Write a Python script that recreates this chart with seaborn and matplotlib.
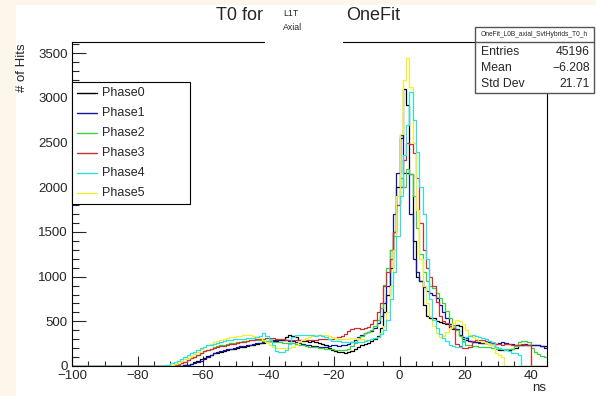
import numpy as np
import pandas as pd
import seaborn as sns
import matplotlib.pyplot as plt
from matplotlib.patches import Rectangle
from matplotlib.lines import Line2D
from matplotlib.ticker import MultipleLocator

# 1 ns bins from -100 to 45 ns
x_lo, x_hi = -100, 45

phase_names = ["Phase0", "Phase1", "Phase2", "Phase3", "Phase4", "Phase5"]
phase_colors = ["#000000", "#14149a", "#3cd23c", "#c83232", "#2ee0e0", "#f0f032"]

# counts per bin, bins -100..-76 are empty
phase0 = [0] * 25 + [
    0, 0, 0, 0, 0, 0, 0, 0, 3, 8,
    15, 25, 40, 60, 80, 95, 110, 125, 140, 150,
    160, 170, 180, 188, 195, 205, 210, 215, 222, 230,
    235, 245, 255, 262, 270, 275, 280, 285, 290, 290,
    330, 345, 340, 320, 290, 280, 275, 270, 275, 265,
    260, 250, 235, 200, 175, 165, 160, 155, 150, 160,
    170, 190, 210, 230, 250, 260, 275, 300, 340, 420,
    600, 800, 1100, 1500, 2000, 2550, 3100, 2920, 2150, 1400,
    1000, 950, 680, 560, 540, 540, 500, 490, 480, 470,
    420, 410, 460, 450, 300, 290, 285, 270, 270, 265,
    260, 260, 250, 240, 190, 180, 180, 175, 180, 185,
    200, 230, 240, 235, 230, 235, 240, 230, 225, 220,
]
phase1 = [0] * 25 + [
    0, 0, 0, 0, 0, 0, 0, 0, 2, 6,
    12, 20, 30, 45, 60, 80, 100, 120, 140, 155,
    165, 175, 185, 195, 205, 212, 220, 228, 235, 240,
    248, 255, 262, 270, 278, 285, 290, 292, 290, 290,
    288, 285, 278, 270, 260, 250, 240, 230, 225, 220,
    215, 215, 218, 225, 235, 232, 228, 230, 240, 250,
    265, 290, 320, 350, 370, 380, 390, 420, 480, 560,
    700, 900, 1300, 1700, 2160, 2580, 2160, 2160, 1700, 1200,
    1050, 950, 880, 840, 820, 800, 760, 680, 600, 540,
    470, 430, 410, 350, 330, 310, 285, 270, 265, 260,
    255, 260, 265, 255, 250, 260, 265, 255, 250, 245,
    240, 235, 240, 245, 235, 230, 235, 240, 220, 205,
]
phase2 = [0] * 25 + [
    0, 0, 0, 0, 2, 5, 10, 18, 30, 45,
    65, 85, 105, 125, 145, 165, 182, 195, 208, 220,
    230, 240, 248, 255, 262, 268, 274, 280, 285, 288,
    290, 290, 288, 285, 280, 276, 272, 268, 265, 262,
    260, 256, 252, 248, 240, 230, 222, 215, 210, 208,
    205, 200, 195, 190, 185, 180, 178, 175, 178, 190,
    220, 260, 300, 340, 370, 380, 400, 450, 520, 650,
    906, 1100, 1300, 1450, 1800, 2100, 2000, 2200, 2150, 1900,
    1550, 1250, 1050, 950, 900, 870, 820, 760, 700, 620,
    540, 460, 400, 340, 280, 240, 230, 225, 220, 215,
    210, 215, 210, 200, 195, 190, 190, 185, 190, 195,
    220, 270, 285, 280, 270, 200, 160, 130, 110, 100,
]
phase3 = [0] * 25 + [
    0, 0, 0, 0, 0, 2, 6, 15, 30, 45,
    65, 85, 105, 125, 145, 165, 180, 195, 205, 212,
    220, 228, 235, 242, 250, 258, 265, 272, 280, 288,
    295, 300, 303, 305, 308, 310, 308, 305, 300, 298,
    295, 292, 290, 288, 290, 292, 290, 288, 292, 295,
    298, 300, 302, 300, 305, 310, 320, 335, 360, 390,
    410, 420, 420, 415, 425, 440, 470, 520, 600, 700,
    900, 1050, 1200, 1500, 1800, 2000, 2300, 2500, 2480, 2380,
    2100, 1600, 1300, 1100, 1000, 900, 720, 560, 500, 480,
    450, 430, 250, 220, 200, 200, 210, 280, 290, 295,
    290, 285, 280, 260, 250, 245, 240, 250, 245, 240,
    235, 240, 245, 235, 230, 0, 0, 0, 0, 0,
]
phase4 = [0] * 25 + [
    0, 0, 3, 8, 15, 28, 40, 60, 80, 100,
    120, 140, 160, 180, 200, 215, 230, 240, 250, 260,
    270, 280, 290, 295, 300, 300, 302, 305, 308, 310,
    315, 325, 340, 370, 340, 300, 230, 170, 160, 155,
    180, 250, 320, 345, 350, 352, 350, 345, 342, 340,
    345, 340, 330, 300, 285, 280, 275, 270, 270, 270,
    270, 268, 270, 272, 280, 290, 300, 310, 330, 360,
    400, 520, 750, 1050, 1450, 1900, 2360, 2700, 3068, 2750,
    2400, 2000, 1700, 1200, 750, 520, 430, 360, 310, 280,
    240, 220, 210, 215, 270, 320, 340, 345, 340, 330,
    310, 300, 285, 265, 215, 200, 190, 175, 165, 150,
    140, 120, 0, 0, 0, 0, 0, 0, 0, 0,
]
phase5 = [0] * 25 + [
    0, 0, 0, 2, 5, 12, 22, 35, 55, 75,
    95, 115, 135, 160, 185, 210, 232, 250, 265, 278,
    290, 300, 310, 320, 328, 335, 340, 345, 345, 342,
    335, 325, 310, 290, 265, 240, 215, 205, 200, 198,
    200, 205, 215, 235, 265, 290, 310, 330, 340, 348,
    350, 348, 345, 335, 325, 312, 305, 300, 302, 305,
    308, 310, 305, 300, 295, 290, 300, 310, 330, 370,
    450, 600, 900, 1300, 1900, 2600, 3200, 3450, 3120, 2500,
    1750, 1200, 900, 700, 560, 450, 370, 330, 340, 380,
    430, 480, 510, 505, 470, 400, 350, 320, 300, 285,
    270, 260, 250, 230, 150, 120, 100, 0, 0, 0,
    0, 0, 0, 0, 0, 0, 0, 0, 0, 0,
]
phase_counts = [phase0, phase1, phase2, phase3, phase4, phase5]

stat_name = "OneFit_L0B_axial_SvtHybrids_T0_h"
stat_rows = [("Entries", "45196"), ("Mean", "\u22126.208"), ("Std Dev", "21.71")]

W, H = 596, 396


def fx(px):
    return px / W


def fy(py):
    return 1 - py / H


sns.set_style("ticks")
plt.rcParams["font.family"] = ["Liberation Sans", "DejaVu Sans"]

fig = plt.figure(figsize=(W / 100, H / 100), dpi=100, facecolor="#fcf7ea")
fig.add_artist(Rectangle((fx(16), 0), 1 - fx(16), fy(5), transform=fig.transFigure,
                         facecolor="white", edgecolor="none", zorder=-10))

ax = fig.add_axes([fx(72), fy(366), (547 - 72) / W, (366 - 42) / H])
ax.set_facecolor("white")

centers = np.arange(x_lo, x_hi) + 0.5
for i in [0, 1, 2, 3, 5, 4]:
    df = pd.DataFrame({"ns": centers, "hits": phase_counts[i]})
    sns.histplot(data=df, x="ns", weights="hits", binwidth=1, binrange=(x_lo, x_hi),
                 element="step", fill=False, color=phase_colors[i], linewidth=0.9, ax=ax)

ax.set_xlim(x_lo, x_hi)
ax.set_ylim(0, 3626)
ax.set_xlabel("")
ax.set_ylabel("")
ax.xaxis.set_major_locator(MultipleLocator(20))
ax.xaxis.set_minor_locator(MultipleLocator(5))
ax.yaxis.set_major_locator(MultipleLocator(500))
ax.yaxis.set_minor_locator(MultipleLocator(100))
ax.tick_params(axis="x", which="major", direction="in", length=7.5, width=0.8,
               labelsize=9.5, pad=3)
ax.tick_params(axis="x", which="minor", direction="in", length=3.8, width=0.8)
ax.tick_params(axis="y", which="major", direction="in", length=10, width=0.8,
               labelsize=9.5, pad=3)
ax.tick_params(axis="y", which="minor", direction="in", length=5, width=0.8)
for s in ax.spines.values():
    s.set_linewidth(0.8)
    s.set_color("black")

# axis titles
fig.text(fx(22), fy(43), "# of Hits", rotation=90, ha="center", va="top", fontsize=9.5)
fig.text(fx(546), fy(388), "ns", ha="right", va="center", fontsize=9.5)

# title
fig.add_artist(Rectangle((fx(265), fy(46)), (343 - 265) / W, (46 - 5) / H,
                         transform=fig.transFigure, facecolor="white",
                         edgecolor="none", zorder=4))
fig.text(fx(263), fy(16), "T0 for", ha="right", va="center", fontsize=13, zorder=5)
fig.text(fx(283), fy(14), "L1T", ha="left", va="center", fontsize=6.3, zorder=5)
fig.text(fx(283), fy(27), "Axial", ha="left", va="center", fontsize=6.3, zorder=5)
fig.text(fx(346), fy(16), "OneFit", ha="left", va="center", fontsize=13, zorder=5)

# stat box
fig.add_artist(Rectangle((fx(475), fy(93)), (594 - 475) / W, (93 - 27) / H,
                         transform=fig.transFigure, facecolor="white",
                         edgecolor="#555555", linewidth=1.0, zorder=6))
fig.add_artist(Line2D([fx(475), fx(594)], [fy(42), fy(42)], transform=fig.transFigure,
                      color="#555555", linewidth=1.0, zorder=7))
fig.text(fx(534), fy(35), stat_name, ha="center", va="center", fontsize=4.8, zorder=7)
for k, (lab, val) in enumerate(stat_rows):
    yy = fy(52 + 16 * k)
    fig.text(fx(481), yy, lab, ha="left", va="center", fontsize=8.8, zorder=7)
    fig.text(fx(590), yy, val, ha="right", va="center", fontsize=8.8, zorder=7)

# legend
fig.add_artist(Rectangle((fx(72), fy(204)), (190 - 72) / W, (204 - 82) / H,
                         transform=fig.transFigure, facecolor="white",
                         edgecolor="black", linewidth=0.8, zorder=6))
for k, (name, col) in enumerate(zip(phase_names, phase_colors)):
    yy = fy(93 + 20 * k)
    fig.add_artist(Line2D([fx(77), fx(97)], [yy, yy], transform=fig.transFigure,
                          color=col, linewidth=1.0, zorder=7))
    fig.text(fx(102), yy, name, ha="left", va="center", fontsize=9, zorder=7)

fig.savefig("out.png", dpi=100, facecolor=fig.get_facecolor())
